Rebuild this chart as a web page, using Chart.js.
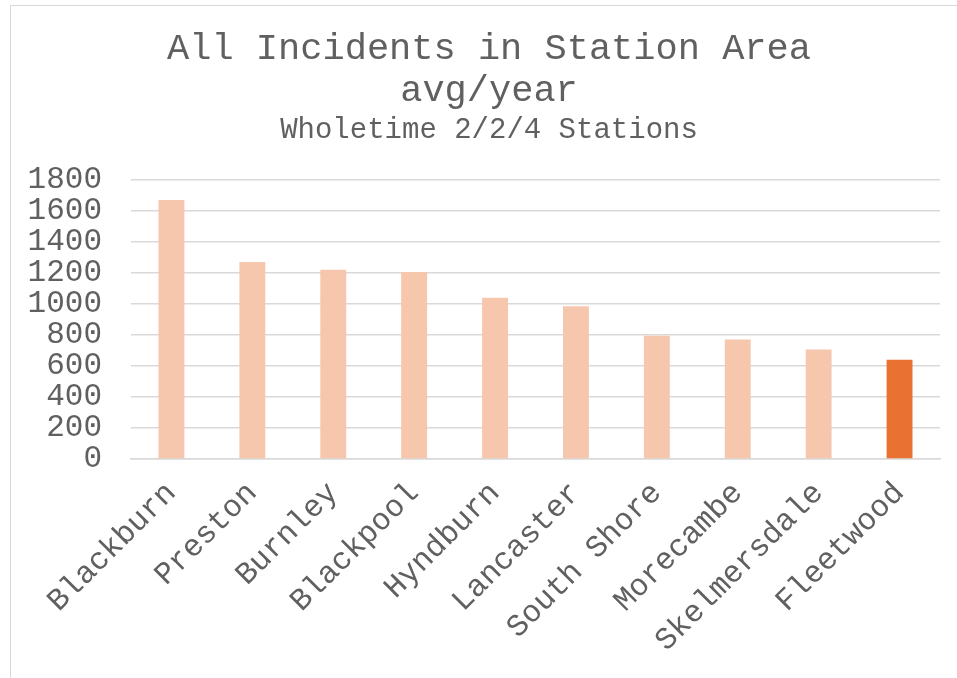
<!DOCTYPE html>
<html>
<head>
<meta charset="utf-8">
<script src="https://cdn.jsdelivr.net/npm/chart.js@4/dist/chart.umd.min.js"></script>
<style>
  html, body { margin: 0; padding: 0; background: #fff; overflow: hidden; }
  #wrap { position: relative; width: 957px; height: 678px; overflow: hidden; }
  #frame {
    position: absolute; left: 10px; top: 5px; width: 990px; height: 700px;
    border: 1px solid #d9d9d9; box-sizing: border-box;
  }
  canvas { position: absolute; left: 0; top: 0; }
</style>
</head>
<body>
<div id="wrap">
  <div id="frame"></div>
  <canvas id="chart" width="951" height="678"></canvas>
</div>
<script>
  // DATA
  const stations = ['Blackburn', 'Preston', 'Burnley', 'Blackpool', 'Hyndburn',
                    'Lancaster', 'South Shore', 'Morecambe', 'Skelmersdale', 'Fleetwood'];
  const avgIncidents = [1670, 1270, 1220, 1205, 1040, 985, 795, 770, 705, 640];
  const highlight = 'Fleetwood';
  const titleLines = ['All Incidents in Station Area', 'avg/year'];
  const subtitleText = 'Wholetime 2/2/4 Stations';

  const FONT = "'Courier New', 'Liberation Mono', monospace";
  const TEXT = '#606060';
  const GRID = '#d9d9d9';

  const barColors = stations.map(s => s === highlight ? '#e97132' : '#f6c6ad');

  const ctx = document.getElementById('chart').getContext('2d');
  new Chart(ctx, {
    type: 'bar',
    data: {
      labels: stations,
      datasets: [{
        label: 'avg/year',
        data: avgIncidents,
        backgroundColor: barColors,
        borderWidth: 0,
        barPercentage: 0.32,
        categoryPercentage: 1
      }]
    },
    options: {
      responsive: false,
      animation: false,
      layout: { padding: { left: 27, right: 0, top: 0, bottom: 0 } },
      plugins: {
        legend: { display: false },
        tooltip: { enabled: false },
        title: {
          display: true,
          text: titleLines,
          color: TEXT,
          font: { family: FONT, size: 37, weight: 'normal', lineHeight: 1.14 },
          padding: { top: 28, bottom: 0 }
        },
        subtitle: {
          display: true,
          text: subtitleText,
          color: TEXT,
          font: { family: FONT, size: 29, weight: 'normal', lineHeight: 1.15 },
          padding: { top: 1, bottom: 33 }
        }
      },
      scales: {
        x: {
          grid: { display: false, drawTicks: false },
          border: { display: true, color: GRID, width: 1.5 },
          ticks: {
            color: TEXT,
            font: { family: FONT, size: 31 },
            minRotation: 45,
            maxRotation: 45,
            autoSkip: false,
            padding: 16
          },
          afterFit: (scale) => { scale.height = 219; }
        },
        y: {
          min: 0,
          max: 1800,
          grid: { color: GRID, lineWidth: 1.5, drawTicks: false },
          border: { display: false },
          ticks: {
            stepSize: 200,
            autoSkip: false,
            color: TEXT,
            font: { family: FONT, size: 31 },
            padding: 29,
            callback: (v) => String(v)
          },
          afterFit: (scale) => { scale.width = 104; }
        },
        // empty right-hand spacer so the titles centre on the chart frame
        spacer: {
          type: 'linear',
          position: 'right',
          grid: { display: false, drawTicks: false },
          border: { display: false },
          ticks: { display: false },
          afterFit: (scale) => { scale.width = 11; }
        }
      }
    }
  });
</script>
</body>
</html>
